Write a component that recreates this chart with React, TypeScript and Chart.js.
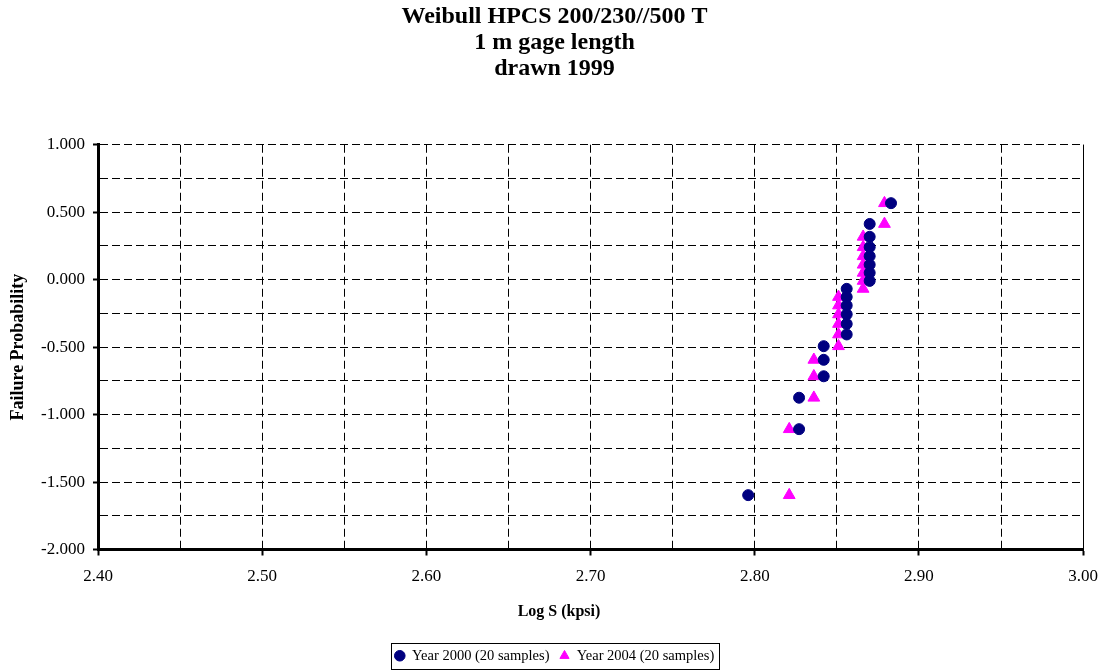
import React, { useEffect, useRef } from 'react';
import { Chart, registerables } from 'chart.js';

Chart.register(...registerables);

const TITLE_LINES = ['Weibull HPCS 200/230//500 T', '1 m gage length', 'drawn 1999'];
const X_LABEL = 'Log S (kpsi)';
const Y_LABEL = 'Failure Probability';
const SERIES_NAMES = ['Year 2000 (20 samples)', 'Year 2004 (20 samples)'];

// Weibull plot ordinate (same ranks for both series)
const FAILURE_PROB = [
  -1.597, -1.108, -0.875, -0.716, -0.594, -0.493, -0.406, -0.328, -0.257, -0.191,
  -0.128, -0.068, -0.009, 0.051, 0.111, 0.174, 0.241, 0.318, 0.413, 0.567,
];
const LOG_S_2000 = [
  2.796, 2.827, 2.827, 2.842, 2.842, 2.842, 2.856, 2.856, 2.856, 2.856,
  2.856, 2.856, 2.870, 2.870, 2.870, 2.870, 2.870, 2.870, 2.870, 2.883,
];
const LOG_S_2004 = [
  2.821, 2.821, 2.836, 2.836, 2.836, 2.851, 2.851, 2.851, 2.851, 2.851,
  2.851, 2.866, 2.866, 2.866, 2.866, 2.866, 2.866, 2.866, 2.879, 2.879,
];

const X_MIN = 2.4;
const X_MAX = 3.0;
const X_STEP = 0.05;
const X_LABEL_STEP = 0.1;
const Y_MIN = -2;
const Y_MAX = 1;
const Y_STEP = 0.25;
const Y_LABEL_STEP = 0.5;

const FONT = '"Liberation Serif", "Times New Roman", serif';

const isMultiple = (v: number, step: number) => {
  const r = v / step;
  return Math.abs(r - Math.round(r)) < 1e-6;
};

const extrasPlugin = {
  id: 'extras',
  beforeDatasetsDraw(chart: any) {
    const { ctx, chartArea: ca } = chart;
    ctx.save();
    ctx.strokeStyle = '#000';
    ctx.lineWidth = 1;
    ctx.beginPath();
    const xr = Math.round(ca.right) + 0.5;
    ctx.moveTo(xr, ca.top);
    ctx.lineTo(xr, ca.bottom);
    ctx.stroke();
    ctx.restore();
  },
  afterDraw(chart: any) {
    const { ctx } = chart;
    ctx.save();
    // x axis title
    ctx.font = `bold 16px ${FONT}`;
    ctx.fillStyle = '#000';
    ctx.textAlign = 'center';
    ctx.textBaseline = 'middle';
    ctx.fillText(X_LABEL, 559, 612);
    // legend frame
    const lg = chart.legend;
    const hb = lg && lg.legendHitBoxes;
    if (hb && hb.length) {
      const first = hb[0];
      const last = hb[hb.length - 1];
      const cy = first.top + first.height / 2;
      const left = Math.round(first.left - 4) + 0.5;
      const right = Math.round(last.left + last.width + 5) + 0.5;
      const top = Math.round(cy - 13) + 0.5;
      const bottom = Math.round(cy + 13) + 0.5;
      ctx.strokeStyle = '#000';
      ctx.lineWidth = 1;
      ctx.strokeRect(left, top, right - left, bottom - top);
    }
    ctx.restore();
  },
};

export default function App() {
  const canvasRef = useRef<HTMLCanvasElement | null>(null);

  useEffect(() => {
    const canvas = canvasRef.current;
    if (!canvas) return;
    const chart = new Chart(canvas, {
      type: 'scatter',
      data: {
        datasets: [
          {
            label: SERIES_NAMES[0],
            data: LOG_S_2000.map((x, i) => ({ x, y: FAILURE_PROB[i] })),
            pointStyle: 'circle',
            pointRadius: 5.5,
            pointHoverRadius: 5.5,
            backgroundColor: '#000080',
            borderColor: '#000080',
            borderWidth: 1,
          },
          {
            label: SERIES_NAMES[1],
            data: LOG_S_2004.map((x, i) => ({ x, y: FAILURE_PROB[i] })),
            pointStyle: 'triangle',
            pointRadius: 6.8,
            pointHoverRadius: 6.8,
            backgroundColor: '#FF00FF',
            borderColor: '#FF00FF',
            borderWidth: 1,
          },
        ],
      },
      options: {
        responsive: false,
        animation: false,
        devicePixelRatio: 1,
        layout: { padding: { left: 0, right: 0, top: 0, bottom: -3 } },
        plugins: {
          tooltip: { enabled: false },
          title: {
            display: true,
            text: TITLE_LINES,
            color: '#000',
            font: { family: FONT, size: 24, weight: 'bold', lineHeight: '26px' },
            padding: { top: 3.5, bottom: 63.25 },
          },
          legend: {
            display: true,
            position: 'bottom',
            labels: {
              usePointStyle: true,
              boxWidth: 10,
              boxHeight: 7.5,
              padding: 10,
              color: '#000',
              font: { family: FONT, size: 14.5 },
            },
          },
        },
        scales: {
          x: {
            type: 'linear',
            position: 'bottom',
            min: X_MIN,
            max: X_MAX,
            afterFit: (s: any) => {
              s.height = 89;
            },
            ticks: {
              stepSize: X_STEP,
              autoSkip: false,
              maxRotation: 0,
              minRotation: 0,
              padding: 11,
              color: '#000',
              font: { family: FONT, size: 17 },
              callback: (v: any) => (isMultiple(Number(v), X_LABEL_STEP) ? Number(v).toFixed(2) : ''),
            },
            grid: {
              color: '#000',
              lineWidth: 1,
              tickLength: 6,
              tickWidth: 2,
              tickColor: (c: any) =>
                c.tick && isMultiple(c.tick.value, X_LABEL_STEP) ? '#000' : 'rgba(0,0,0,0)',
            },
            border: { display: true, color: '#000', width: 3, dash: [8, 4] },
          },
          y: {
            type: 'linear',
            position: 'left',
            min: Y_MIN,
            max: Y_MAX,
            afterFit: (s: any) => {
              s.width = 98;
            },
            ticks: {
              stepSize: Y_STEP,
              autoSkip: false,
              padding: 8,
              color: '#000',
              font: { family: FONT, size: 17 },
              callback: (v: any) => (isMultiple(Number(v), Y_LABEL_STEP) ? Number(v).toFixed(3) : ''),
            },
            grid: {
              color: '#000',
              lineWidth: 1,
              tickLength: 5,
              tickWidth: 2,
              tickColor: (c: any) =>
                c.tick && isMultiple(c.tick.value, Y_LABEL_STEP) ? '#000' : 'rgba(0,0,0,0)',
            },
            border: { display: true, color: '#000', width: 3, dash: [8, 4] },
            title: {
              display: true,
              text: Y_LABEL,
              color: '#000',
              font: { family: FONT, size: 18, weight: 'bold' },
              padding: { top: 8, bottom: 0 },
            },
          },
          yRight: {
            type: 'linear',
            position: 'right',
            display: true,
            afterFit: (s: any) => {
              s.width = 20.5;
            },
            ticks: { display: false },
            grid: { display: false, drawTicks: false },
            border: { display: false },
          },
        },
      },
      plugins: [extrasPlugin],
    } as any);
    return () => chart.destroy();
  }, []);

  return (
    <div style={{ position: 'fixed', left: 0, top: 0, width: 1109, height: 670, background: '#fff' }}>
      <canvas ref={canvasRef} width={1109} height={670} style={{ display: 'block' }} />
    </div>
  );
}
